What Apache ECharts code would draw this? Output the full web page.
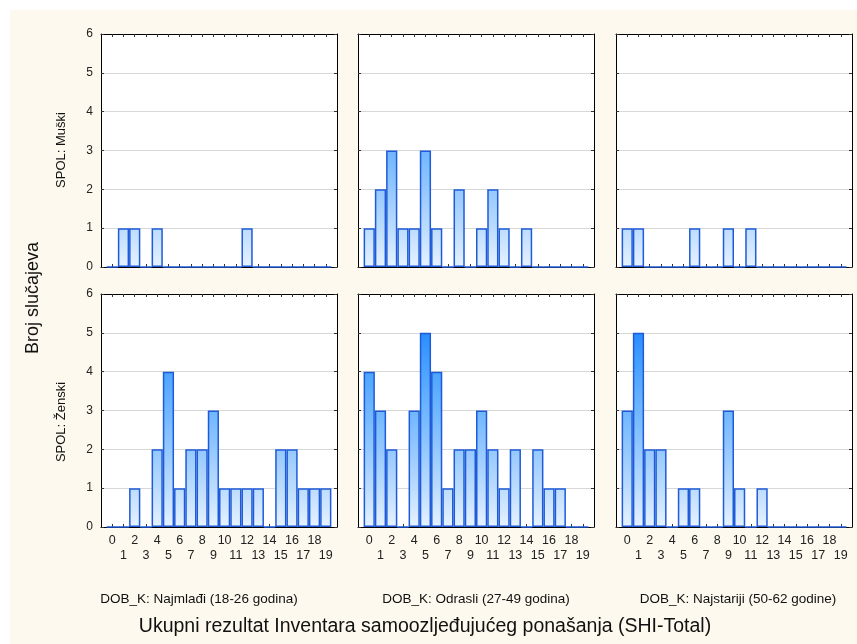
<!DOCTYPE html>
<html><head><meta charset="utf-8">
<script src="https://cdn.jsdelivr.net/npm/echarts@6/dist/echarts.min.js"></script>
<style>html,body{margin:0;padding:0;background:#fff}#c{width:857px;height:644px}</style>
</head><body><div id="c"></div>
<script>
// ---- data ----
const bins = ['0','1','2','3','4','5','6','7','8','9','10','11','12','13','14','15','16','17','18','19'];
const yTicks = [0, 1, 2, 3, 4, 5, 6];
const rowLabels = ['SPOL: Muški', 'SPOL: Ženski'];
const colLabels = ['DOB_K: Najmlađi (18-26 godina)', 'DOB_K: Odrasli (27-49 godina)', 'DOB_K: Najstariji (50-62 godine)'];
const yTitle = 'Broj slučajeva';
const xTitle = 'Ukupni rezultat Inventara samoozljeđujućeg ponašanja (SHI-Total)';

const muskiNajmladji   = [0,1,1,0,1,0,0,0,0,0,0,0,1,0,0,0,0,0,0,0];
const muskiOdrasli     = [1,2,3,1,1,3,1,0,2,0,1,2,1,0,1,0,0,0,0,0];
const muskiNajstariji  = [1,1,0,0,0,0,1,0,0,1,0,1,0,0,0,0,0,0,0,0];
const zenskiNajmladji  = [0,0,1,0,2,4,1,2,2,3,1,1,1,1,0,2,2,1,1,1];
const zenskiOdrasli    = [4,3,2,0,3,5,4,1,2,2,3,2,1,2,0,2,1,1,0,0];
const zenskiNajstariji = [3,5,2,2,0,1,1,0,0,3,1,0,1,0,0,0,0,0,0,0];

const panels = [
  [muskiNajmladji, muskiOdrasli, muskiNajstariji],
  [zenskiNajmladji, zenskiOdrasli, zenskiNajstariji]
];

// ---- layout ----
const colLeft = [101, 358, 616];
const rowTop = [34, 294];
const W = 236, H = 233;
const FONT = '"Liberation Sans", Arial, sans-serif';
const yMax = yTicks[yTicks.length - 1];

const cats = [''].concat(bins, ['']);
const barW = W / (cats.length - 1);
const grid = [], xAxis = [], yAxis = [], series = [];
const tickOk = (i) => i > 0 && i < cats.length - 1;

let k = 0;
for (let r = 0; r < 2; r++) {
  for (let c = 0; c < 3; c++) {
    const top = rowTop[r], left = colLeft[c];
    grid.push({left: left, top: top, width: W, height: H, show: true, backgroundColor: '#fff', borderWidth: 0});
    const bottomRow = r === 1;
    xAxis.push({
      type: 'category', gridIndex: k, data: cats, boundaryGap: false, position: 'bottom',
      axisLine: {show: true, onZero: false, lineStyle: {color: '#000', width: 1}},
      axisTick: {show: true, inside: true, length: 3, interval: tickOk, lineStyle: {color: '#333'}},
      axisLabel: {
        show: bottomRow, interval: 0, color: '#222', fontFamily: FONT, fontSize: 12.5, lineHeight: 15, margin: 6,
        formatter: (v, i) => v === '' ? '' : ((i - 1) % 2 === 0 ? v : '\n' + v)
      },
      splitLine: {show: false}
    });
    xAxis.push({
      type: 'category', gridIndex: k, data: cats, boundaryGap: false, position: 'top',
      axisLine: {show: true, onZero: false, lineStyle: {color: '#000', width: 1}},
      axisTick: {show: true, inside: true, length: 3, interval: tickOk, lineStyle: {color: '#333'}},
      axisLabel: {show: false}, splitLine: {show: false}
    });
    yAxis.push({
      type: 'value', gridIndex: k, min: yTicks[0], max: yMax, interval: 1, position: 'left',
      axisLine: {show: true, lineStyle: {color: '#000', width: 1}},
      axisTick: {show: true, inside: true, length: 3, lineStyle: {color: '#333'}},
      axisLabel: {show: c === 0, color: '#222', fontFamily: FONT, fontSize: 12, margin: 8},
      splitLine: {show: true, lineStyle: {color: '#d8d8d8', width: 1}}
    });
    yAxis.push({
      type: 'value', gridIndex: k, min: yTicks[0], max: yMax, interval: 1, position: 'right',
      axisLine: {show: true, lineStyle: {color: '#000', width: 1}},
      axisTick: {show: true, inside: true, length: 3, lineStyle: {color: '#333'}},
      axisLabel: {show: false}, splitLine: {show: false}
    });
    const vals = panels[r][c];
    series.push({
      type: 'bar', xAxisIndex: 2 * k, yAxisIndex: 2 * k,
      data: [null].concat(vals, [null]),
      barWidth: barW,
      itemStyle: {
        color: {
          type: 'linear', x: 0, y: top, x2: 0, y2: top + H, global: true,
          colorStops: [
            {offset: 0, color: '#0f74ff'},
            {offset: 1/6, color: '#2a8dff'},
            {offset: 2/6, color: '#4ca4ff'},
            {offset: 3/6, color: '#6fb6ff'},
            {offset: 4/6, color: '#94c8ff'},
            {offset: 5/6, color: '#bcdcfe'},
            {offset: 1, color: '#e6f2ff'}
          ]
        },
        borderColor: '#1f5bd8', borderWidth: 1.5
      },
      emphasis: {disabled: true},
      animation: false
    });
    k++;
  }
}

const graphic = [
  {type: 'rect', z: -100, silent: true, shape: {x: 10, y: 10, width: 847, height: 634}, style: {fill: '#fef9ee'}},
  {type: 'text', x: 33, y: 298, rotation: Math.PI / 2, style: {text: yTitle, font: '18px ' + FONT, fill: '#111', align: 'center', verticalAlign: 'middle'}},
  {type: 'text', x: 61, y: 150, rotation: Math.PI / 2, style: {text: rowLabels[0], font: '13px ' + FONT, fill: '#111', align: 'center', verticalAlign: 'middle'}},
  {type: 'text', x: 61, y: 422, rotation: Math.PI / 2, style: {text: rowLabels[1], font: '13px ' + FONT, fill: '#111', align: 'center', verticalAlign: 'middle'}},
  {type: 'text', x: 425, y: 627, style: {text: xTitle, font: '19.5px ' + FONT, fill: '#111', align: 'center', verticalAlign: 'middle'}}
];
const colCenters = [199, 476, 738];
for (let c = 0; c < 3; c++) {
  graphic.push({type: 'text', x: colCenters[c], y: 599, style: {text: colLabels[c], font: '13.5px ' + FONT, fill: '#111', align: 'center', verticalAlign: 'middle'}});
}

const chart = echarts.init(document.getElementById('c'), null, {renderer: 'canvas'});
chart.setOption({
  backgroundColor: '#fff',
  animation: false,
  grid, xAxis, yAxis, series, graphic
});
</script>
</body></html>
